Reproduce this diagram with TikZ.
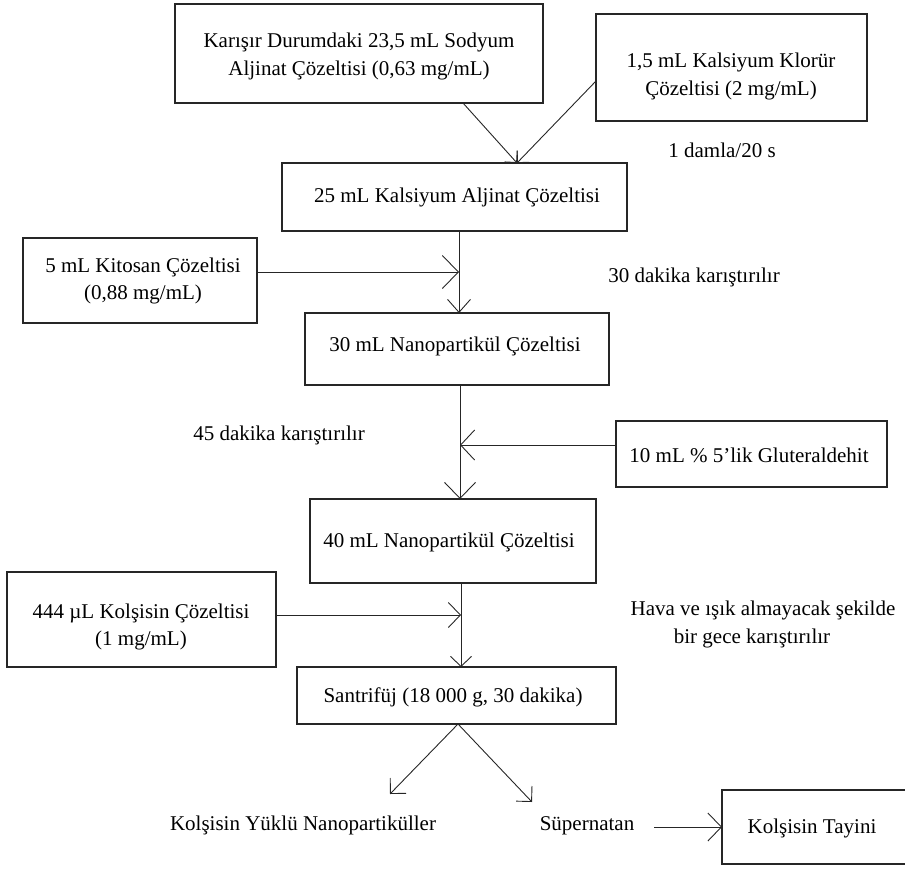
\documentclass[tikz,border=0pt]{standalone}
\usepackage{fontspec}
\setmainfont{Liberation Serif}
\usetikzlibrary{arrows.meta}

\tikzset{
  box/.style={draw=black!85, line width=1.1pt, rectangle, inner sep=0pt, outer sep=0pt, anchor=north west},
  txt/.style={inner sep=0pt, anchor=base, font=\fontsize{21}{27.5}\selectfont},
  link/.style={draw=black!85, line width=0.9pt},
  tip/.style n args={2}{link, -{Straight Barb[length=#1, width=#2, line width=0.9pt]}},
}

\begin{document}
\begin{tikzpicture}[x=1pt, y=-1pt]
\useasboundingbox (0,0) rectangle (905,868);

% process boxes
\node[box, minimum width=368pt, minimum height=99pt]  (A) at (175,4)   {};
\node[box, minimum width=271pt, minimum height=107pt] (B) at (596,14)  {};
\node[box, minimum width=345pt, minimum height=68pt]  (C) at (282,163) {};
\node[box, minimum width=234pt, minimum height=85pt]  (D) at (23,238)  {};
\node[box, minimum width=304pt, minimum height=72pt]  (E) at (305,313) {};
\node[box, minimum width=271pt, minimum height=66pt]  (G) at (616,421) {};
\node[box, minimum width=286pt, minimum height=84pt]  (F) at (310,499) {};
\node[box, minimum width=269pt, minimum height=95pt]  (H) at (7,572)   {};
\node[box, minimum width=319pt, minimum height=57pt]  (I) at (297,667) {};
\node[box, minimum width=188pt, minimum height=74pt]  (J) at (722,790) {};

% box texts
\node[txt] (A1) at (359,47)  {Karışır Durumdaki 23,5 mL Sodyum};
\node[txt] (A2) at (359,75)  {Aljinat Çözeltisi (0,63 mg/mL)};
\node[txt] (B1) at (731,67)  {1,5 mL Kalsiyum Klorür};
\node[txt] (B2) at (731,95)  {Çözeltisi (2 mg/mL)};
\node[txt] (C1) at (457,202) {25 mL Kalsiyum Aljinat Çözeltisi};
\node[txt] (D1) at (143,272) {5 mL Kitosan Çözeltisi};
\node[txt] (D2) at (143,299) {(0,88 mg/mL)};
\node[txt] (E1) at (455,351) {30 mL Nanopartikül Çözeltisi};
\node[txt] (G1) at (749,462) {10 mL \% 5'lik Gluteraldehit};
\node[txt] (F1) at (449,547) {40 mL Nanopartikül Çözeltisi};
\node[txt] (H1) at (141,618) {444 µL Kolşisin Çözeltisi};
\node[txt] (H2) at (141,645) {(1 mg/mL)};
\node[txt] (I1) at (453,702) {Santrifüj (18 000 g, 30 dakika)};
\node[txt] (J1) at (812,833) {Kolşisin Tayini};

% free labels
\node[txt] (drop) at (722,157) {1 damla/20 s};
\node[txt] (mix30) at (694,282) {30 dakika karıştırılır};
\node[txt] (mix45) at (279,440) {45 dakika karıştırılır};
\node[txt] (dark1) at (763,615) {Hava ve ışık almayacak şekilde};
\node[txt] (dark2) at (752,643) {bir gece karıştırılır};
\node[txt] (K) at (303,830) {Kolşisin Yüklü Nanopartiküller};
\node[txt] (S) at (587,830) {Süpernatan};

% reference points
\coordinate (sp1) at (459,0);
\coordinate (sp2) at (460,0);
\coordinate (sp3) at (461,0);
\coordinate (joinC) at ([xshift=62.5pt]C.north);
\coordinate (tipK) at (390,794);
\coordinate (tipS) at (532,802);
\coordinate (s0) at ([xshift=20pt]S.east);

% connectors
\draw[tip={8.5pt}{17pt}] ([xshift=-80pt]A.south east) -- (joinC);
\draw[tip={8.5pt}{17pt}] ([yshift=-13.5pt]B.west) -- (joinC);

\draw[tip={13pt}{23pt}] (C.south -| sp1) -- (E.north -| sp1);
\draw[tip={16pt}{33pt}] ([yshift=8.5pt]D.east) -- ([yshift=8.5pt]D.east -| sp1);

\draw[tip={16pt}{31pt}] (E.south -| sp2) -- (F.north -| sp2);
\draw[tip={14pt}{30pt}] ([yshift=9pt]G.west) -- ([yshift=9pt]G.west -| sp2);

\draw[tip={10pt}{21pt}] (F.south -| sp3) -- (I.north -| sp3);
\draw[tip={12pt}{25pt}] ([yshift=4.5pt]H.east) -- ([yshift=4.5pt]H.east -| sp3);

\draw[tip={11pt}{22pt}] ([xshift=1.5pt]I.south) -- (tipK);
\draw[tip={11pt}{22pt}] ([xshift=1.5pt]I.south) -- (tipS);

\draw[tip={13.5pt}{28pt}] (s0 |- J.west) -- (J.west);
\end{tikzpicture}
\end{document}
